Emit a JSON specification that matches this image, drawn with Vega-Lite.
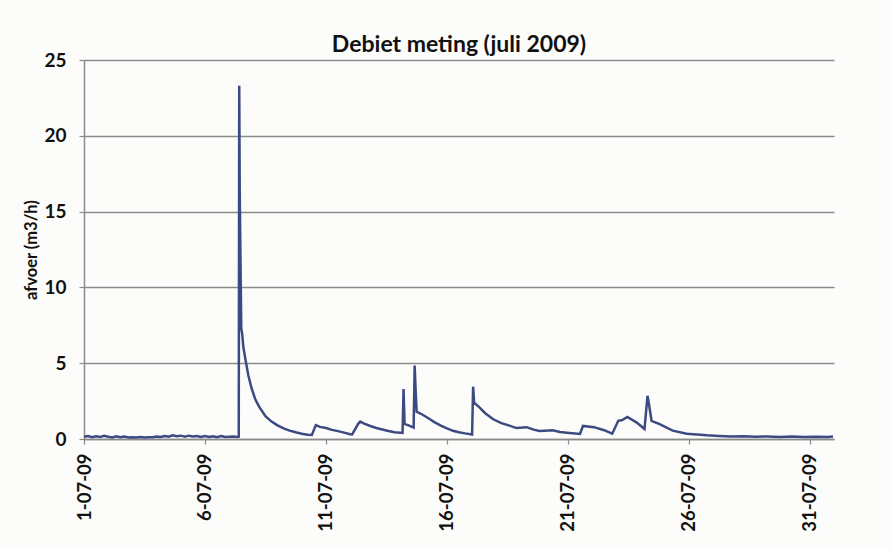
{
  "$schema": "https://vega.github.io/schema/vega-lite/v6.json",
  "width": 750,
  "height": 379,
  "autosize": {"type": "none"},
  "padding": {"left": 84, "top": 60, "right": 59, "bottom": 111},
  "background": "#fcfcfa",
  "title": {
    "text": "Debiet meting (juli 2009)",
    "font": "Lato",
    "fontSize": 23,
    "fontWeight": "bold",
    "color": "#111111",
    "offset": -6
  },
  "config": {
    "view": {"stroke": null},
    "axis": {
      "labelFont": "Lato",
      "titleFont": "Lato",
      "labelFontWeight": "bold",
      "titleFontWeight": "bold",
      "labelColor": "#111111",
      "titleColor": "#111111",
      "domainColor": "#8a8a8a",
      "domainWidth": 1.5,
      "tickColor": "#8a8a8a",
      "tickWidth": 1.2,
      "tickSize": 5,
      "gridColor": "#8a8a8a",
      "gridWidth": 1.5
    }
  },
  "data": {
    "values": [
      {"t": "2009-07-01T00:00", "q": 0.15},
      {"t": "2009-07-01T04:00", "q": 0.2},
      {"t": "2009-07-01T08:00", "q": 0.12},
      {"t": "2009-07-01T12:00", "q": 0.18},
      {"t": "2009-07-01T16:00", "q": 0.14},
      {"t": "2009-07-01T20:00", "q": 0.21},
      {"t": "2009-07-02T00:00", "q": 0.15},
      {"t": "2009-07-02T04:00", "q": 0.1},
      {"t": "2009-07-02T08:00", "q": 0.18},
      {"t": "2009-07-02T12:00", "q": 0.12},
      {"t": "2009-07-02T16:00", "q": 0.16},
      {"t": "2009-07-02T20:00", "q": 0.1},
      {"t": "2009-07-03T00:00", "q": 0.12},
      {"t": "2009-07-03T04:00", "q": 0.1},
      {"t": "2009-07-03T08:00", "q": 0.13},
      {"t": "2009-07-03T12:00", "q": 0.1},
      {"t": "2009-07-03T16:00", "q": 0.12},
      {"t": "2009-07-03T20:00", "q": 0.11},
      {"t": "2009-07-04T00:00", "q": 0.16},
      {"t": "2009-07-04T04:00", "q": 0.13},
      {"t": "2009-07-04T08:00", "q": 0.2},
      {"t": "2009-07-04T12:00", "q": 0.15},
      {"t": "2009-07-04T16:00", "q": 0.24},
      {"t": "2009-07-04T20:00", "q": 0.18},
      {"t": "2009-07-05T00:00", "q": 0.22},
      {"t": "2009-07-05T04:00", "q": 0.15},
      {"t": "2009-07-05T08:00", "q": 0.22},
      {"t": "2009-07-05T12:00", "q": 0.16},
      {"t": "2009-07-05T16:00", "q": 0.2},
      {"t": "2009-07-05T20:00", "q": 0.14},
      {"t": "2009-07-06T00:00", "q": 0.19},
      {"t": "2009-07-06T04:00", "q": 0.13},
      {"t": "2009-07-06T08:00", "q": 0.18},
      {"t": "2009-07-06T12:00", "q": 0.12},
      {"t": "2009-07-06T16:00", "q": 0.2},
      {"t": "2009-07-06T20:00", "q": 0.13},
      {"t": "2009-07-07T00:00", "q": 0.15},
      {"t": "2009-07-07T04:00", "q": 0.17},
      {"t": "2009-07-07T08:00", "q": 0.14},
      {"t": "2009-07-07T09:30", "q": 0.15},
      {"t": "2009-07-07T10:00", "q": 23.3},
      {"t": "2009-07-07T10:30", "q": 16.2},
      {"t": "2009-07-07T12:00", "q": 7.3},
      {"t": "2009-07-07T13:00", "q": 6.9},
      {"t": "2009-07-07T14:00", "q": 6.1},
      {"t": "2009-07-07T16:00", "q": 5.3},
      {"t": "2009-07-07T19:00", "q": 4.2},
      {"t": "2009-07-07T22:00", "q": 3.4},
      {"t": "2009-07-08T02:00", "q": 2.6},
      {"t": "2009-07-08T06:00", "q": 2.1},
      {"t": "2009-07-08T12:00", "q": 1.5},
      {"t": "2009-07-08T18:00", "q": 1.15},
      {"t": "2009-07-09T00:00", "q": 0.9},
      {"t": "2009-07-09T06:00", "q": 0.7},
      {"t": "2009-07-09T12:00", "q": 0.55},
      {"t": "2009-07-09T18:00", "q": 0.44},
      {"t": "2009-07-10T00:00", "q": 0.35},
      {"t": "2009-07-10T06:00", "q": 0.28},
      {"t": "2009-07-10T10:00", "q": 0.27},
      {"t": "2009-07-10T14:00", "q": 0.92},
      {"t": "2009-07-10T18:00", "q": 0.8},
      {"t": "2009-07-11T00:00", "q": 0.72},
      {"t": "2009-07-11T06:00", "q": 0.6},
      {"t": "2009-07-11T12:00", "q": 0.52},
      {"t": "2009-07-11T18:00", "q": 0.42},
      {"t": "2009-07-12T00:00", "q": 0.32},
      {"t": "2009-07-12T02:00", "q": 0.3},
      {"t": "2009-07-12T08:00", "q": 1.0},
      {"t": "2009-07-12T10:00", "q": 1.15},
      {"t": "2009-07-12T14:00", "q": 1.02},
      {"t": "2009-07-12T20:00", "q": 0.86},
      {"t": "2009-07-13T02:00", "q": 0.73},
      {"t": "2009-07-13T08:00", "q": 0.63},
      {"t": "2009-07-13T14:00", "q": 0.53},
      {"t": "2009-07-13T20:00", "q": 0.45},
      {"t": "2009-07-14T04:00", "q": 0.4},
      {"t": "2009-07-14T05:00", "q": 3.3},
      {"t": "2009-07-14T06:00", "q": 1.0},
      {"t": "2009-07-14T10:00", "q": 0.9},
      {"t": "2009-07-14T15:00", "q": 0.75},
      {"t": "2009-07-14T16:00", "q": 4.85},
      {"t": "2009-07-14T17:00", "q": 3.2},
      {"t": "2009-07-14T18:00", "q": 1.8},
      {"t": "2009-07-15T00:00", "q": 1.6},
      {"t": "2009-07-15T06:00", "q": 1.35},
      {"t": "2009-07-15T12:00", "q": 1.1},
      {"t": "2009-07-15T18:00", "q": 0.88},
      {"t": "2009-07-16T00:00", "q": 0.7},
      {"t": "2009-07-16T06:00", "q": 0.54},
      {"t": "2009-07-16T12:00", "q": 0.44},
      {"t": "2009-07-16T18:00", "q": 0.37},
      {"t": "2009-07-17T01:00", "q": 0.3},
      {"t": "2009-07-17T02:00", "q": 3.45},
      {"t": "2009-07-17T03:00", "q": 2.4},
      {"t": "2009-07-17T08:00", "q": 2.1},
      {"t": "2009-07-17T14:00", "q": 1.7},
      {"t": "2009-07-17T22:00", "q": 1.3},
      {"t": "2009-07-18T06:00", "q": 1.05},
      {"t": "2009-07-18T14:00", "q": 0.88},
      {"t": "2009-07-18T21:00", "q": 0.72},
      {"t": "2009-07-19T07:00", "q": 0.78},
      {"t": "2009-07-19T14:00", "q": 0.62},
      {"t": "2009-07-19T20:00", "q": 0.53},
      {"t": "2009-07-20T09:00", "q": 0.58},
      {"t": "2009-07-20T16:00", "q": 0.46},
      {"t": "2009-07-20T23:00", "q": 0.41},
      {"t": "2009-07-21T12:00", "q": 0.33},
      {"t": "2009-07-21T15:00", "q": 0.86},
      {"t": "2009-07-22T02:00", "q": 0.78},
      {"t": "2009-07-22T12:00", "q": 0.58},
      {"t": "2009-07-22T20:00", "q": 0.35},
      {"t": "2009-07-23T02:00", "q": 1.2},
      {"t": "2009-07-23T06:00", "q": 1.25},
      {"t": "2009-07-23T11:00", "q": 1.45},
      {"t": "2009-07-23T20:00", "q": 1.1},
      {"t": "2009-07-24T04:00", "q": 0.66},
      {"t": "2009-07-24T07:00", "q": 2.85},
      {"t": "2009-07-24T08:00", "q": 2.5},
      {"t": "2009-07-24T11:00", "q": 1.2},
      {"t": "2009-07-24T19:00", "q": 0.98},
      {"t": "2009-07-25T08:00", "q": 0.55},
      {"t": "2009-07-25T22:00", "q": 0.35},
      {"t": "2009-07-26T18:00", "q": 0.24},
      {"t": "2009-07-27T06:00", "q": 0.2},
      {"t": "2009-07-27T18:00", "q": 0.17},
      {"t": "2009-07-28T06:00", "q": 0.18},
      {"t": "2009-07-28T18:00", "q": 0.15},
      {"t": "2009-07-29T06:00", "q": 0.17},
      {"t": "2009-07-29T18:00", "q": 0.14},
      {"t": "2009-07-30T06:00", "q": 0.16},
      {"t": "2009-07-30T18:00", "q": 0.13},
      {"t": "2009-07-31T06:00", "q": 0.15},
      {"t": "2009-07-31T18:00", "q": 0.13},
      {"t": "2009-07-31T23:00", "q": 0.16}
    ]
  },
  "mark": {"type": "line", "color": "#3d4a82", "strokeWidth": 2.5},
  "encoding": {
    "x": {
      "field": "t",
      "type": "temporal",
      "scale": {
        "domain": [
          {"year": 2009, "month": 7, "date": 1},
          {"year": 2009, "month": 8, "date": 1}
        ]
      },
      "axis": {
        "title": null,
        "format": "%-d-%m-%y",
        "labelAngle": -90,
        "labelFontSize": 18.5,
        "labelPadding": 9,
        "grid": false,
        "values": [
          {"year": 2009, "month": 7, "date": 1},
          {"year": 2009, "month": 7, "date": 6},
          {"year": 2009, "month": 7, "date": 11},
          {"year": 2009, "month": 7, "date": 16},
          {"year": 2009, "month": 7, "date": 21},
          {"year": 2009, "month": 7, "date": 26},
          {"year": 2009, "month": 7, "date": 31}
        ]
      }
    },
    "y": {
      "field": "q",
      "type": "quantitative",
      "scale": {"domain": [0, 25], "nice": false},
      "axis": {
        "title": "afvoer (m3/h)",
        "titleFontSize": 16.5,
        "titlePadding": 4,
        "labelFontSize": 19,
        "labelPadding": 13,
        "values": [0, 5, 10, 15, 20, 25],
        "grid": true
      }
    }
  }
}
